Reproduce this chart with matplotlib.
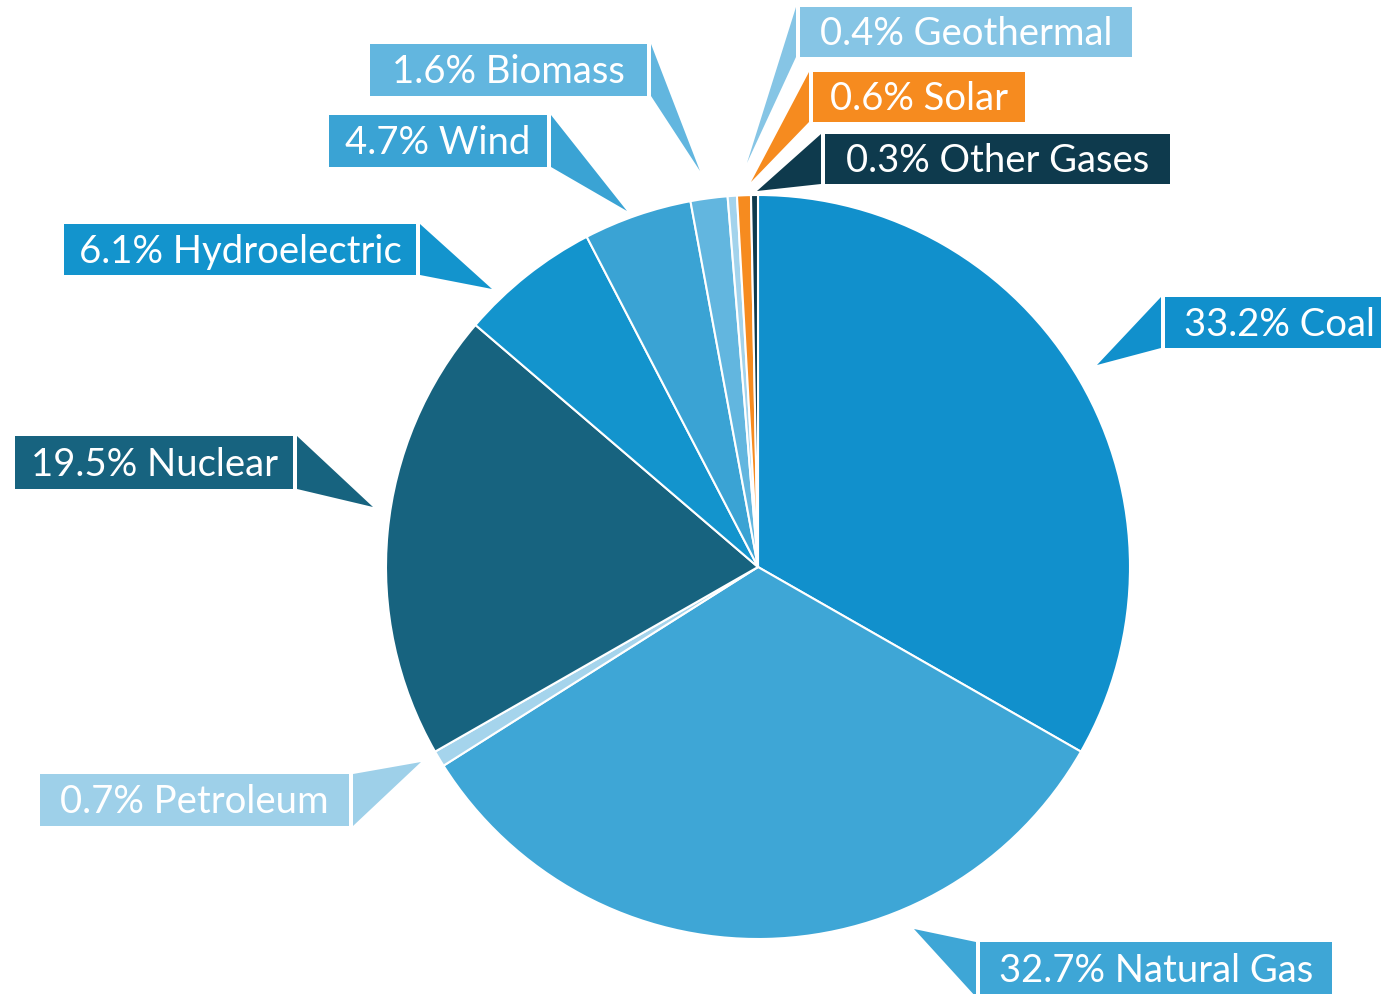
import matplotlib.pyplot as plt
from matplotlib.patches import Rectangle, Polygon

# share of US electricity generation by source (percent)
sources = ["Coal", "Natural Gas", "Petroleum", "Nuclear", "Hydroelectric",
           "Wind", "Biomass", "Geothermal", "Solar", "Other Gases"]
shares = [33.2, 32.7, 0.7, 19.5, 6.1, 4.7, 1.6, 0.4, 0.6, 0.3]
colors = ["#1190cc", "#3ea6d6", "#a5d4ec", "#17637f", "#1394cd",
          "#3aa3d4", "#62b6df", "#a3d3ec", "#f68b1f", "#0e3a4d"]
box_colors = ["#1190cc", "#3ea6d6", "#9ed0e9", "#17637f", "#1394cd",
              "#3aa3d4", "#62b6df", "#86c5e5", "#f68b1f", "#0e3a4d"]

# label box layout in pixel coords: x0, y0, x1, y1, pointer tip
boxes = {
    "Coal":          (1165, 298, 1395, 349, (1097, 366)),
    "Natural Gas":   (980, 943, 1332, 998, (914, 930)),
    "Petroleum":     (40, 775, 349, 827, (421, 763)),
    "Nuclear":       (15, 437, 293, 490, (373, 508)),
    "Hydroelectric": (64, 225, 416, 276, (492, 290)),
    "Wind":          (329, 116, 547, 168, (627, 212)),
    "Biomass":       (370, 45, 647, 97, (700, 172)),
    "Geothermal":    (800, 8, 1132, 58, (747, 164)),
    "Solar":         (813, 73, 1025, 123, (751, 183)),
    "Other Gases":   (825, 135, 1170, 185, (757, 192)),
}

W, H = 1381, 995
fig = plt.figure(figsize=(W / 100, H / 100), dpi=100)
ax = fig.add_axes([0, 0, 1, 1])

# y axis is inverted, so start at -90 and go counterclockwise in data space
ax.pie(shares, colors=colors, center=(758, 568), radius=372,
       startangle=-90, counterclock=True,
       wedgeprops=dict(edgecolor="white", linewidth=1.5))

for src, share, col in zip(sources, shares, box_colors):
    x0, y0, x1, y1, tip = boxes[src]
    ax.add_patch(Rectangle((x0, y0), x1 - x0, y1 - y0, color=col, lw=0))
    gap = 4
    bx = x1 + gap if tip[0] > x1 else x0 - gap
    ax.add_patch(Polygon([(bx, y0), (bx, y1), tip], closed=True, color=col, lw=0))
    ax.text((x0 + x1) / 2, (y0 + y1) / 2 + 1, f"{share}% {src}",
            ha="center", va="center", color="white", fontsize=27.5,
            family="Lato")

ax.set_xlim(0, W)
ax.set_ylim(H, 0)
ax.set_aspect("equal")
ax.axis("off")

fig.savefig("out.png", dpi=100)
